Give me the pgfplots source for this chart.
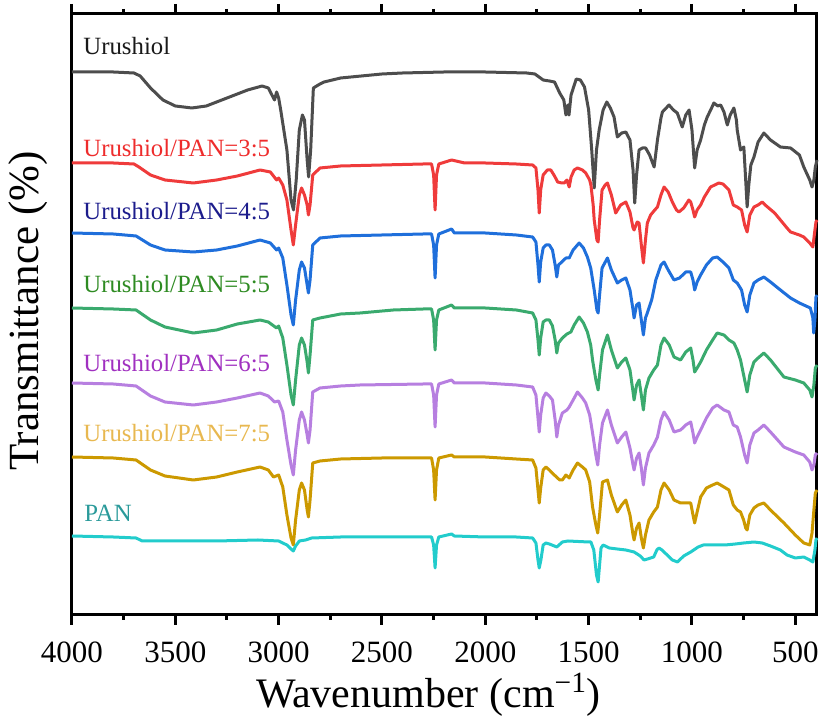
\documentclass[border=0pt]{standalone}
\usepackage{pgfplots}
\pgfplotsset{compat=1.18}
\usepackage{fontspec}
\setmainfont{Liberation Serif}

\definecolor{cUru}{HTML}{4D4D4D}
\definecolor{cR}{HTML}{EF3B3B}
\definecolor{cB}{HTML}{1F6FDB}
\definecolor{cG}{HTML}{3AAA6E}
\definecolor{cP}{HTML}{B77FE0}
\definecolor{cY}{HTML}{CC9900}
\definecolor{cC}{HTML}{22CCCC}
\definecolor{tR}{HTML}{EE2C2C}
\definecolor{tB}{HTML}{1C1C8C}
\definecolor{tG}{HTML}{2E8B22}
\definecolor{tP}{HTML}{A030C0}
\definecolor{tY}{HTML}{E8B850}
\definecolor{tC}{HTML}{2A9A9A}

\pgfplotsset{spec/.style={line width=1.5pt, line join=round, no markers}}

\begin{document}
\begin{tikzpicture}
\useasboundingbox (0,0) rectangle (410pt,358.5pt);
\begin{axis}[
  at={(36pt,51pt)}, anchor=south west,
  scale only axis, width=372.5pt, height=300.5pt,
  x dir=reverse, xmin=395, xmax=4000, ymin=-615, ymax=-14,
  xtick={500,1000,1500,2000,2500,3000,3500,4000},
  minor x tick num=1, ytick=\empty,
  tick align=outside, major tick length=5pt, minor tick length=2.5pt,
  every tick/.style={line width=1.5pt, black},
  axis line style={line width=1.5pt},
  xticklabel style={font=\rmfamily\fontsize{15.5}{15.5}\selectfont, yshift=-5pt},
  /pgf/number format/assume math mode=true,
  /pgf/number format/1000 sep={},
  clip=false,
]
% Urushiol
\addplot[spec, cUru] coordinates {
(4000,-72) (3900,-72) (3800,-72) (3700,-73) (3670,-76) (3620,-88) (3560,-100) (3500,-106) (3420,-108) (3350,-106)
(3250,-98) (3150,-90) (3080,-86) (3050,-88) (3030,-96) (3020,-100) (3010,-92) (3000,-98) (2990,-110) (2960,-150)
(2940,-200) (2928,-210) (2915,-180) (2900,-130) (2885,-115) (2875,-120) (2862,-160) (2855,-177) (2845,-150) (2832,-88)
(2800,-84) (2780,-82) (2700,-78) (2600,-76) (2500,-74) (2400,-73) (2200,-72) (2000,-72) (1800,-73) (1760,-74)
(1720,-80) (1690,-81) (1665,-82) (1640,-93) (1620,-100) (1610,-115) (1600,-105) (1595,-115) (1585,-95) (1560,-79)
(1540,-80) (1520,-87) (1500,-110) (1485,-150) (1473,-188) (1462,-150) (1449,-130) (1430,-110) (1412,-102) (1395,-108)
(1377,-117) (1361,-137) (1340,-133) (1320,-132) (1300,-140) (1285,-170) (1277,-203) (1268,-175) (1256,-150) (1240,-148)
(1224,-148) (1205,-155) (1183,-167) (1167,-140) (1150,-118) (1143,-112) (1111,-105) (1090,-110) (1071,-113) (1047,-127)
(1030,-115) (1014,-110) (1000,-130) (987,-168) (975,-150) (958,-140) (940,-125) (926,-117) (905,-108) (894,-103)
(875,-106) (861,-105) (845,-112) (829,-125) (815,-115) (797,-108) (785,-120) (781,-130) (765,-150) (749,-147)
(740,-180) (733,-207) (725,-185) (715,-165) (700,-157) (680,-142) (652,-133) (620,-140) (572,-147) (523,-148)
(480,-155) (459,-167) (430,-180) (419,-187) (410,-180) (403,-167) (395,-160)};
% 3:5
\addplot[spec, cR] coordinates {
(4000,-163) (3800,-163) (3700,-164) (3676,-167) (3620,-175) (3550,-180) (3413,-183) (3300,-180) (3200,-176) (3090,-170)
(3040,-172) (3010,-180) (3000,-178) (2980,-185) (2960,-200) (2940,-230) (2929,-245) (2918,-225) (2900,-195) (2889,-188)
(2875,-195) (2862,-205) (2856,-215) (2848,-205) (2835,-175) (2800,-168) (2700,-166) (2500,-165) (2300,-164) (2260,-164)
(2250,-175) (2243,-210) (2236,-175) (2225,-164) (2163,-160) (2100,-163) (2000,-163) (1850,-164) (1771,-165) (1755,-168)
(1745,-190) (1739,-213) (1732,-190) (1720,-175) (1700,-170) (1683,-170) (1665,-176) (1650,-182) (1630,-183) (1618,-183)
(1605,-180) (1594,-187) (1585,-177) (1570,-170) (1554,-168) (1530,-170) (1514,-173) (1495,-180) (1489,-185) (1478,-205)
(1473,-220) (1460,-240) (1454,-242) (1447,-220) (1435,-190) (1420,-185) (1409,-183) (1390,-195) (1369,-213) (1345,-205)
(1320,-202) (1300,-212) (1285,-228) (1280,-230) (1265,-222) (1256,-223) (1245,-245) (1235,-263) (1225,-240) (1216,-223)
(1200,-215) (1180,-210) (1167,-207) (1150,-195) (1135,-187) (1115,-192) (1095,-202) (1075,-210) (1063,-212) (1040,-208)
(1015,-200) (1006,-202) (995,-210) (987,-217) (975,-210) (958,-205) (940,-197) (910,-187) (870,-183) (850,-184)
(821,-190) (800,-205) (781,-207) (760,-210) (745,-225) (733,-232) (720,-215) (700,-207) (680,-205) (660,-202)
(640,-206) (600,-213) (572,-220) (540,-228) (523,-232) (480,-235) (459,-237) (430,-243) (415,-247) (405,-230)
(400,-222) (395,-220)};
% 4:5
\addplot[spec, cB] coordinates {
(4000,-233) (3800,-234) (3690,-236) (3620,-245) (3550,-250) (3413,-252) (3300,-250) (3200,-246) (3090,-240) (3040,-243)
(3010,-250) (3000,-248) (2980,-258) (2960,-285) (2940,-315) (2929,-325) (2918,-300) (2900,-270) (2889,-262) (2875,-268)
(2862,-285) (2856,-293) (2848,-280) (2835,-245) (2800,-238) (2700,-236) (2500,-235) (2300,-234) (2260,-234) (2250,-245)
(2243,-278) (2236,-245) (2225,-234) (2163,-229) (2150,-233) (2000,-233) (1850,-235) (1771,-237) (1755,-242) (1745,-265)
(1739,-282) (1732,-262) (1720,-248) (1707,-245) (1690,-245) (1675,-250) (1662,-265) (1654,-277) (1646,-265) (1630,-262)
(1610,-258) (1594,-258) (1575,-250) (1546,-243) (1525,-248) (1506,-257) (1490,-268) (1473,-290) (1460,-310) (1454,-313)
(1447,-295) (1435,-268) (1409,-258) (1390,-270) (1361,-283) (1340,-280) (1320,-278) (1300,-290) (1285,-310) (1280,-318)
(1268,-305) (1256,-303) (1245,-320) (1235,-335) (1225,-318) (1216,-313) (1195,-300) (1175,-280) (1150,-265) (1135,-262)
(1115,-270) (1087,-280) (1060,-278) (1030,-272) (1006,-272) (995,-280) (987,-290) (975,-282) (958,-275) (930,-265)
(900,-258) (878,-257) (850,-262) (821,-268) (800,-280) (781,-283) (760,-290) (745,-305) (733,-312) (720,-295)
(700,-283) (680,-280) (652,-277) (620,-282) (572,-290) (523,-298) (480,-303) (427,-308) (415,-318) (411,-333)
(405,-320) (400,-297) (395,-295)};
% 5:5
\addplot[spec, cG] coordinates {
(4000,-308) (3800,-309) (3690,-310) (3620,-320) (3550,-327) (3413,-333) (3300,-330) (3200,-324) (3090,-320) (3050,-322)
(3010,-328) (3000,-326) (2980,-338) (2960,-365) (2940,-395) (2929,-405) (2918,-380) (2900,-345) (2889,-338) (2875,-345)
(2862,-362) (2856,-373) (2848,-355) (2835,-320) (2800,-318) (2700,-314) (2606,-313) (2445,-310) (2300,-309) (2260,-309)
(2250,-320) (2243,-350) (2236,-320) (2225,-310) (2163,-305) (2150,-308) (2000,-308) (1850,-310) (1771,-313) (1755,-320)
(1745,-340) (1739,-355) (1732,-338) (1720,-322) (1707,-320) (1690,-320) (1675,-326) (1662,-340) (1654,-353) (1646,-343)
(1627,-338) (1605,-334) (1586,-332) (1570,-325) (1546,-317) (1525,-323) (1506,-332) (1490,-345) (1481,-360) (1465,-380)
(1454,-390) (1447,-375) (1433,-350) (1409,-335) (1390,-350) (1361,-368) (1340,-362) (1320,-358) (1300,-370) (1285,-392)
(1280,-400) (1268,-385) (1256,-380) (1245,-395) (1235,-410) (1225,-390) (1208,-378) (1185,-370) (1167,-365) (1150,-345)
(1135,-338) (1110,-345) (1087,-357) (1055,-360) (1030,-352) (1006,-348) (995,-360) (987,-372) (975,-368) (958,-362)
(930,-350) (900,-340) (878,-333) (845,-335) (821,-340) (797,-343) (781,-350) (765,-360) (745,-380) (733,-392)
(720,-375) (700,-362) (680,-358) (652,-353) (620,-360) (555,-377) (500,-380) (459,-383) (430,-390) (419,-397)
(410,-385) (403,-368) (395,-365)};
% 6:5
\addplot[spec, cP] coordinates {
(4000,-383) (3800,-384) (3690,-386) (3620,-396) (3550,-402) (3413,-405) (3300,-402) (3200,-398) (3090,-393) (3050,-396)
(3020,-402) (3000,-401) (2980,-412) (2960,-440) (2940,-465) (2929,-475) (2918,-450) (2900,-420) (2889,-412) (2875,-420)
(2862,-435) (2856,-443) (2848,-430) (2835,-392) (2800,-388) (2700,-386) (2606,-385) (2300,-384) (2260,-384) (2250,-395)
(2243,-427) (2236,-395) (2225,-384) (2163,-380) (2150,-383) (2000,-383) (1850,-385) (1771,-387) (1755,-395) (1745,-418)
(1739,-432) (1732,-415) (1720,-398) (1707,-393) (1690,-396) (1675,-400) (1662,-420) (1654,-437) (1646,-425) (1627,-413)
(1605,-410) (1594,-407) (1575,-400) (1554,-392) (1530,-398) (1514,-403) (1495,-415) (1481,-433) (1465,-455) (1456,-465)
(1447,-445) (1433,-423) (1409,-410) (1390,-425) (1361,-443) (1340,-437) (1320,-432) (1300,-448) (1285,-465) (1280,-470)
(1268,-458) (1256,-453) (1245,-468) (1235,-485) (1225,-468) (1208,-453) (1185,-445) (1167,-437) (1150,-420) (1135,-412)
(1110,-420) (1087,-432) (1055,-430) (1030,-425) (1006,-422) (995,-433) (987,-443) (975,-437) (958,-430) (930,-418)
(900,-408) (878,-405) (845,-410) (821,-412) (800,-425) (781,-427) (765,-437) (745,-455) (733,-463) (720,-445)
(700,-433) (680,-430) (652,-425) (620,-432) (555,-447) (500,-452) (459,-455) (430,-462) (419,-470) (410,-465)
(403,-455) (395,-453)};
% 7:5
\addplot[spec, cY] coordinates {
(4000,-457) (3800,-458) (3690,-460) (3620,-470) (3550,-476) (3413,-480) (3300,-477) (3200,-472) (3090,-467) (3050,-470)
(3025,-477) (3000,-475) (2980,-487) (2960,-515) (2940,-538) (2929,-545) (2918,-520) (2900,-490) (2889,-483) (2875,-490)
(2862,-510) (2856,-517) (2848,-500) (2835,-463) (2800,-461) (2700,-459) (2500,-458) (2300,-458) (2260,-458) (2250,-470)
(2243,-500) (2236,-470) (2225,-458) (2163,-455) (2150,-457) (2000,-457) (1850,-459) (1771,-460) (1755,-468) (1745,-490)
(1739,-503) (1732,-488) (1720,-470) (1707,-467) (1690,-470) (1666,-475) (1640,-480) (1627,-480) (1610,-475) (1594,-478)
(1575,-470) (1554,-463) (1530,-467) (1514,-470) (1495,-482) (1481,-507) (1465,-525) (1456,-533) (1447,-515) (1433,-482)
(1409,-480) (1390,-495) (1361,-512) (1340,-505) (1320,-500) (1300,-515) (1285,-535) (1280,-540) (1268,-528) (1256,-523)
(1245,-538) (1235,-548) (1225,-535) (1208,-520) (1185,-512) (1167,-507) (1150,-490) (1135,-483) (1110,-490) (1087,-500)
(1055,-503) (1030,-503) (1006,-503) (995,-515) (987,-523) (975,-512) (958,-497) (930,-488) (900,-485) (878,-483)
(845,-487) (821,-490) (800,-505) (781,-510) (765,-512) (750,-520) (740,-528) (733,-530) (720,-515) (700,-508)
(680,-505) (652,-503) (620,-510) (555,-523) (500,-535) (459,-543) (430,-545) (419,-533) (410,-510) (403,-493)
(395,-490)};
% PAN
\addplot[spec, cC] coordinates {
(4000,-536) (3800,-537) (3690,-538) (3660,-541) (3500,-541) (3300,-541) (3100,-540) (3000,-541) (2960,-545) (2940,-549)
(2929,-551) (2918,-546) (2900,-541) (2870,-540) (2840,-538) (2700,-537) (2500,-537) (2300,-537) (2260,-537) (2250,-545)
(2243,-568) (2236,-545) (2225,-537) (2163,-534) (2150,-536) (2000,-537) (1850,-537) (1771,-538) (1755,-543) (1745,-560)
(1739,-568) (1731,-560) (1720,-545) (1707,-543) (1690,-544) (1654,-547) (1627,-542) (1600,-541) (1500,-542) (1489,-542)
(1475,-550) (1462,-575) (1454,-582) (1447,-565) (1440,-548) (1430,-545) (1400,-548) (1361,-549) (1320,-550) (1280,-552)
(1250,-556) (1232,-560) (1215,-559) (1185,-557) (1170,-550) (1160,-548) (1145,-550) (1120,-555) (1095,-560) (1070,-562)
(1040,-556) (1006,-552) (970,-547) (945,-545) (900,-545) (840,-545) (790,-544) (750,-543) (700,-542) (660,-543)
(620,-546) (572,-550) (540,-555) (500,-558) (459,-557) (430,-560) (415,-562) (405,-550) (400,-540) (395,-538)};
\end{axis}
\begin{scope}[every node/.style={anchor=base west, inner sep=0pt, font=\rmfamily\fontsize{12.4}{12.4}\selectfont}]
\node[text=black!90] at (41.5pt,331pt) {Urushiol};
\node[text=tR] at (41.5pt,280pt) {Urushiol/PAN=3:5};
\node[text=tB] at (41.5pt,248.5pt) {Urushiol/PAN=4:5};
\node[text=tG] at (41.5pt,212pt) {Urushiol/PAN=5:5};
\node[text=tP] at (41.5pt,172.5pt) {Urushiol/PAN=6:5};
\node[text=tY] at (41.5pt,137.5pt) {Urushiol/PAN=7:5};
\node[text=tC] at (42pt,97.5pt) {PAN};
\end{scope}
\node[anchor=base, inner sep=0pt, font=\rmfamily\fontsize{21}{21}\selectfont] at (214.25pt,4.5pt) {Wavenumber (cm\textsuperscript{−1})};
\node[rotate=90, anchor=center, inner sep=0pt, font=\rmfamily\fontsize{21.5}{21.5}\selectfont] at (14pt,203pt) {Transmittance (\%)};
\end{tikzpicture}
\end{document}
